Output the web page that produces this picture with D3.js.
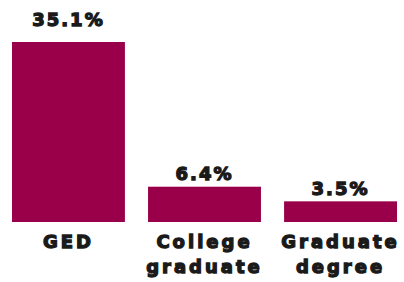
<!DOCTYPE html>
<html>
<head>
<meta charset="utf-8">
<script src="https://cdn.jsdelivr.net/npm/d3@7"></script>
<style>
  body { margin: 0; background: #fff; }
  text { font-family: "DejaVu Sans", sans-serif; font-weight: bold; fill: #1a1a1a; }
</style>
</head>
<body>
<svg id="chart" width="404" height="282"></svg>
<script>
var categories = ["GED", "College graduate", "Graduate degree"];
var lines = [["GED"], ["College", "graduate"], ["Graduate", "degree"]];
var values = [35.1, 6.4, 3.5];
var labels = ["35.1%", "6.4%", "3.5%"];

var svg = d3.select("#chart");

var x = d3.scaleBand()
    .domain(categories)
    .range([12, 397])
    .paddingInner(0.17)
    .paddingOuter(0);

var y = d3.scaleLinear()
    .domain([-0.6, 35.1])
    .range([222, 42]);

svg.selectAll("rect.bar")
    .data(values)
    .enter()
    .append("rect")
    .attr("class", "bar")
    .attr("x", function(d, i) { return x(categories[i]); })
    .attr("y", function(d) { return y(d); })
    .attr("width", x.bandwidth())
    .attr("height", function(d) { return y(-0.6) - y(d); })
    .attr("fill", "#990049");

// tall bar gets its label a bit further up, like the original
svg.selectAll("text.val")
    .data(values)
    .enter()
    .append("text")
    .attr("class", "val")
    .attr("x", function(d, i) { return x(categories[i]) + x.bandwidth() / 2; })
    .attr("y", function(d) { return y(d) - 5 - 0.3 * d; })
    .attr("text-anchor", "middle")
    .style("font-size", "18px")
    .style("letter-spacing", "2px")
    .style("stroke", "#1a1a1a")
    .style("stroke-width", "1.3px")
    .text(function(d, i) { return labels[i]; });

var cat = svg.selectAll("text.cat")
    .data(categories)
    .enter()
    .append("text")
    .attr("class", "cat")
    .attr("x", function(d) { return x(d) + x.bandwidth() / 2; })
    .attr("y", 248)
    .attr("text-anchor", "middle")
    .style("font-size", "18px")
    .style("letter-spacing", "3px")
    .style("stroke", "#1a1a1a")
    .style("stroke-width", "1.3px");

cat.selectAll("tspan")
    .data(function(d, i) { return lines[i]; })
    .enter()
    .append("tspan")
    .attr("x", function() { return d3.select(this.parentNode).attr("x"); })
    .attr("dy", function(d, i) { return i === 0 ? 0 : 25; })
    .text(function(d) { return d; });
</script>
</body>
</html>
